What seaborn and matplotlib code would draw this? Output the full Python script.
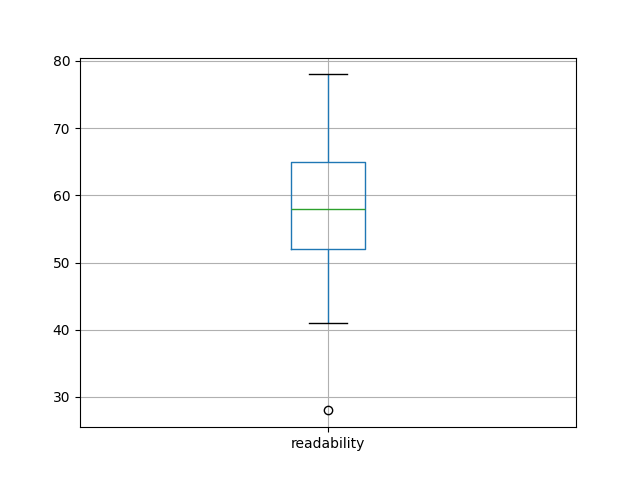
import numpy as np
import pandas as pd
import matplotlib
matplotlib.use("Agg")
import matplotlib.pyplot as plt
import seaborn as sns

# readability scores (chosen so the box stats match the chart)
readability = [28, 41, 52, 55, 58, 60, 65, 70, 78]

df = pd.DataFrame({"readability": readability})

fig, ax = plt.subplots(figsize=(6.4, 4.8), dpi=100)
sns.boxplot(data=df, ax=ax, fill=False, width=0.15, whis=1.5, linewidth=1,
            boxprops=dict(color="#1f77b4", linewidth=1),
            whiskerprops=dict(color="#1f77b4", linewidth=1),
            capprops=dict(color="black", linewidth=1),
            medianprops=dict(color="#2ca02c", linewidth=1),
            flierprops=dict(marker="o", markerfacecolor="none",
                            markeredgecolor="black", markersize=6))
ax.set_xlim(-0.5, 0.5)
ax.grid(True)
ax.set_axisbelow(True)
ax.set_xlabel("")
ax.set_ylabel("")
plt.savefig("out.png")
